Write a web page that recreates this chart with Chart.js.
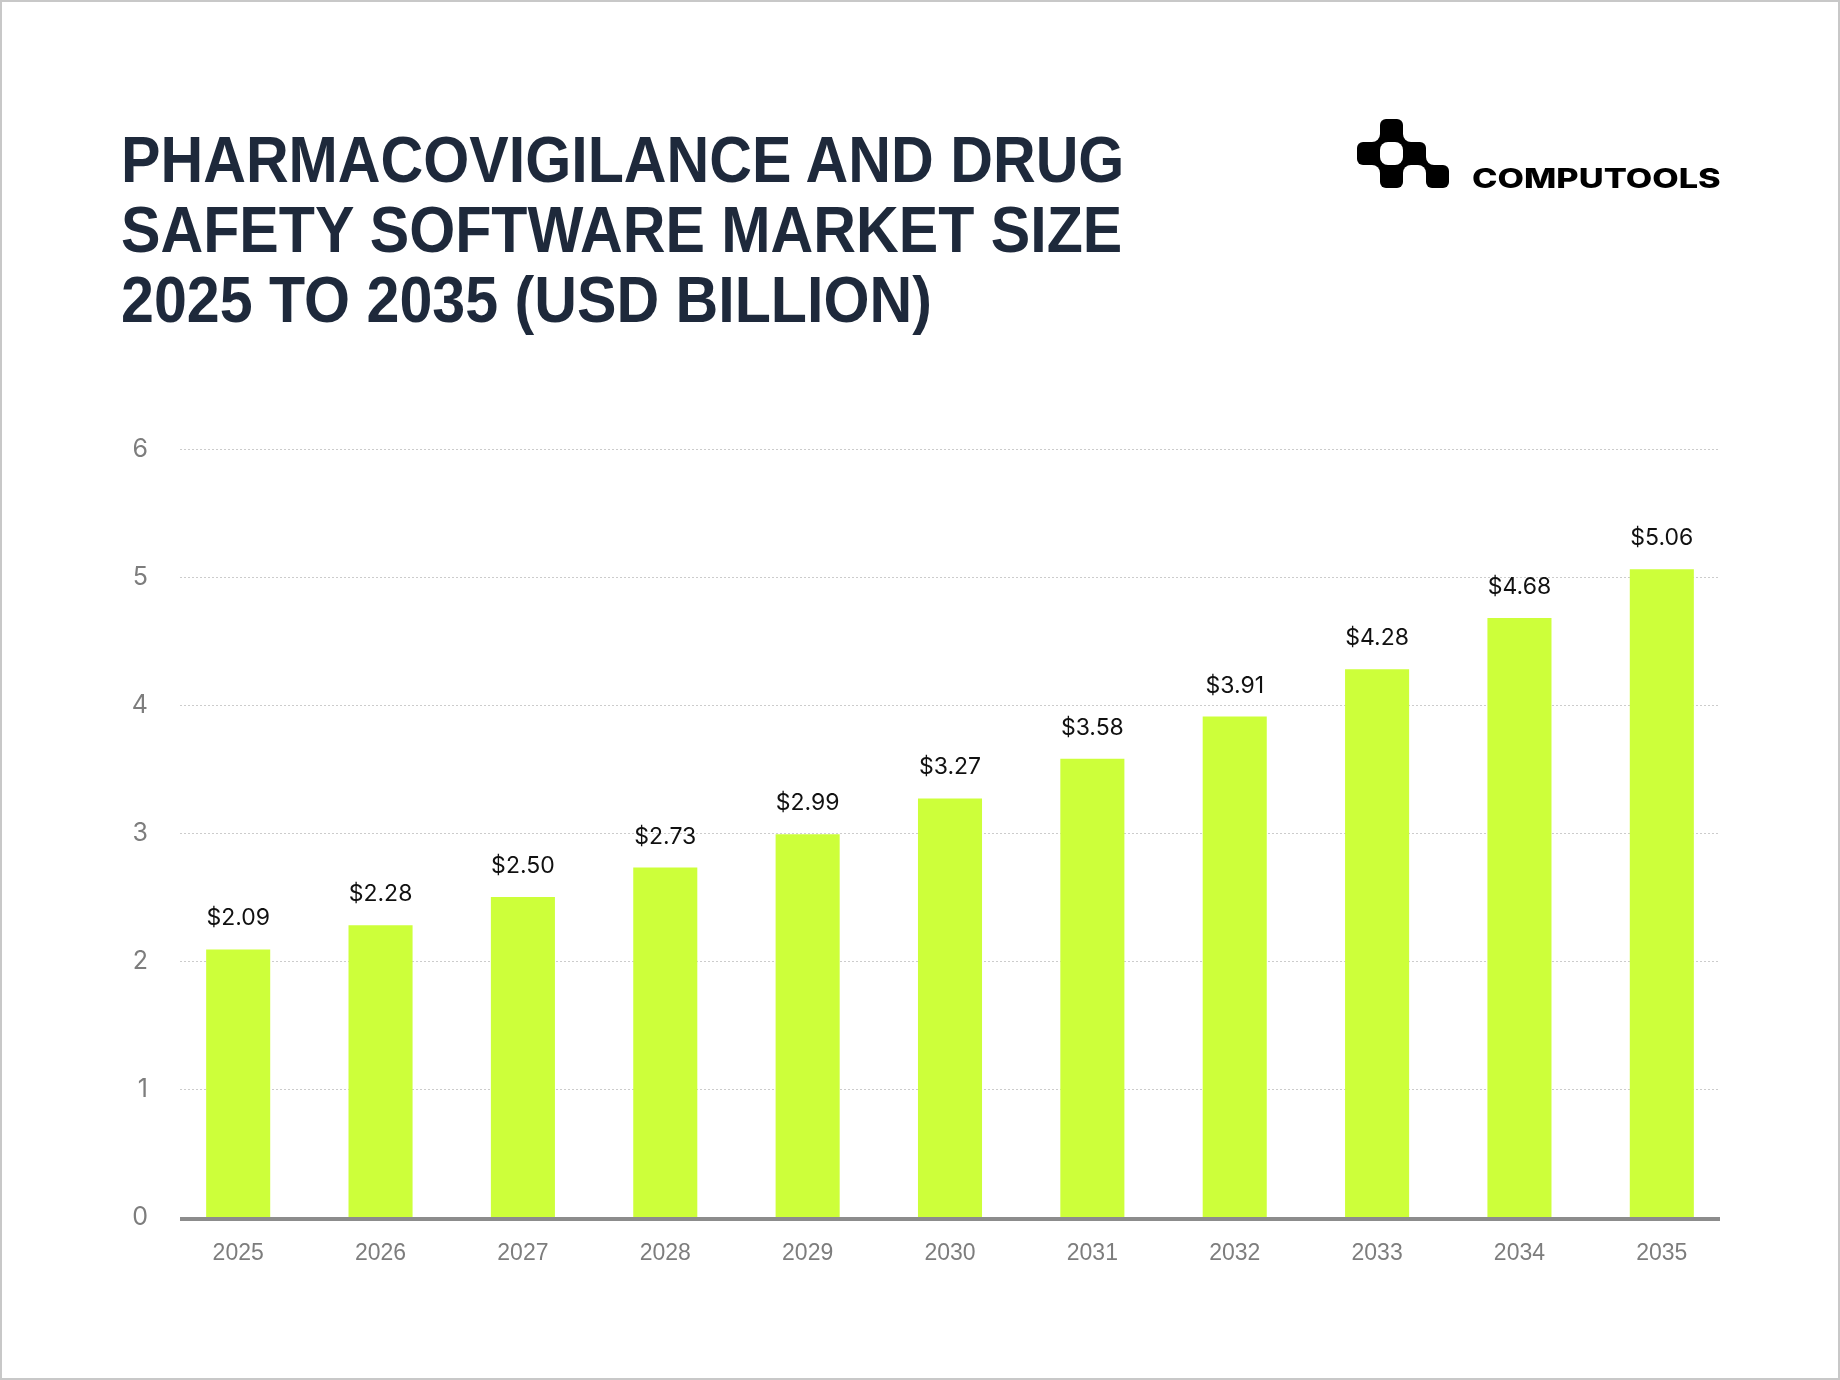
<!DOCTYPE html>
<html>
<head>
<meta charset="utf-8">
<title>Pharmacovigilance and Drug Safety Software Market Size 2025 to 2035</title>
<script src="https://cdn.jsdelivr.net/npm/chart.js@4.4.1/dist/chart.umd.min.js"></script>
<style>
  html, body { margin: 0; padding: 0; background: #fff; }
  #page { position: relative; width: 1840px; height: 1380px; overflow: hidden; background: #fff; }
  #page canvas { position: absolute; left: 0; top: 0; }
  .frame { position: absolute; left: 0; top: 0; right: 0; bottom: 0; border: 2px solid #c8c8c8; pointer-events: none; }
  h1 {
    position: absolute; left: 121px; top: 125px; margin: 0;
    font: bold 65px/70px "Liberation Sans", Arial, sans-serif;
    color: #1e293b; white-space: nowrap;
    transform: scaleX(0.91); transform-origin: left top;
  }
  .logo { position: absolute; left: 1357px; top: 119px; }
  .brand {
    position: absolute; left: 1472px; top: 165px; margin: 0;
    font: 800 27px/27px Inter, sans-serif; color: #000; white-space: nowrap;
    transform: scaleX(1.27); transform-origin: left top;
  }
</style>
</head>
<body>
<div id="page">
  <canvas id="marketChart" width="1840" height="1380"></canvas>
  <h1>PHARMACOVIGILANCE AND DRUG<br>SAFETY SOFTWARE MARKET SIZE<br>2025 TO 2035 (USD BILLION)</h1>
  <!-- logo : damier de carrés reliés en diagonale -->
  <svg class="logo" width="92" height="69" viewBox="0 0 92 69">
    <g fill="#000">
      <rect x="23" y="0" width="23" height="23" rx="6"/>
      <rect x="0" y="23" width="23" height="23" rx="6"/>
      <rect x="46" y="23" width="23" height="23" rx="6"/>
      <rect x="23" y="46" width="23" height="23" rx="6"/>
      <rect x="69" y="46" width="23" height="23" rx="6"/>
      <rect x="15" y="15" width="16" height="16"/>
      <rect x="38" y="15" width="16" height="16"/>
      <rect x="15" y="38" width="16" height="16"/>
      <rect x="38" y="38" width="16" height="16"/>
      <rect x="61" y="38" width="16" height="16"/>
    </g>
    <g fill="#fff">
      <circle cx="15" cy="15" r="8"/><circle cx="31" cy="31" r="8"/>
      <circle cx="54" cy="15" r="8"/><circle cx="38" cy="31" r="8"/>
      <circle cx="31" cy="38" r="8"/><circle cx="15" cy="54" r="8"/>
      <circle cx="38" cy="38" r="8"/><circle cx="54" cy="54" r="8"/>
      <circle cx="77" cy="38" r="8"/><circle cx="61" cy="54" r="8"/>
    </g>
  </svg>
  <div class="brand">COMPUTOOLS</div>
  <div class="frame"></div>
</div>
<script>
// données
const years = ['2025', '2026', '2027', '2028', '2029', '2030', '2031', '2032', '2033', '2034', '2035'];
const marketSize = [2.09, 2.28, 2.50, 2.73, 2.99, 3.27, 3.58, 3.91, 4.28, 4.68, 5.06];
const yTicks = [0, 1, 2, 3, 4, 5, 6];

// grille pointillée, ligne d'axe et étiquettes de valeur
const decorations = {
  id: 'decorations',
  beforeDatasetsDraw(chart) {
    const { ctx, chartArea, scales: { y } } = chart;
    const x0 = chartArea.left + 13, x1 = chartArea.right - 13;
    ctx.save();
    ctx.strokeStyle = '#cccccc';
    ctx.lineWidth = 1;
    ctx.setLineDash([2, 2]);
    y.ticks.forEach(t => {
      if (t.value === 0) return;
      const py = Math.round(y.getPixelForValue(t.value)) + 0.5;
      ctx.beginPath();
      ctx.moveTo(x0, py);
      ctx.lineTo(x1, py);
      ctx.stroke();
    });
    ctx.restore();
  },
  afterDatasetsDraw(chart) {
    const { ctx, chartArea, scales: { y } } = chart;
    const x0 = chartArea.left + 13, x1 = chartArea.right - 13;
    const zero = y.getPixelForValue(0);
    ctx.save();
    ctx.strokeStyle = '#8c8c8c';
    ctx.lineWidth = 4;
    ctx.beginPath();
    ctx.moveTo(x0, zero + 2);
    ctx.lineTo(x1, zero + 2);
    ctx.stroke();

    ctx.font = '23px Inter, sans-serif';
    ctx.fillStyle = '#111111';
    ctx.textAlign = 'center';
    ctx.textBaseline = 'alphabetic';
    chart.getDatasetMeta(0).data.forEach((bar, i) => {
      ctx.fillText('$' + marketSize[i].toFixed(2), bar.x, bar.y - 24);
    });
    ctx.restore();
  }
};

new Chart(document.getElementById('marketChart'), {
  type: 'bar',
  data: {
    labels: years,
    datasets: [{
      data: marketSize,
      backgroundColor: '#cdff3a',
      borderWidth: 0,
      barPercentage: 0.45,
      categoryPercentage: 1
    }]
  },
  options: {
    responsive: false,
    animation: false,
    devicePixelRatio: 1,
    layout: { padding: { left: 0, top: 449, right: 107, bottom: 103 } },
    plugins: {
      legend: { display: false },
      tooltip: { enabled: false }
    },
    scales: {
      x: {
        grid: { display: false, drawTicks: false },
        border: { display: false },
        ticks: { color: '#7d7d7d', font: { family: 'Liberation Sans', size: 23 }, padding: 23, maxRotation: 0 },
        afterFit: s => { s.height = 60; }
      },
      y: {
        min: 0,
        max: 6,
        afterBuildTicks: s => { s.ticks = yTicks.map(v => ({ value: v })); },
        grid: { display: false, drawTicks: false },
        border: { display: false },
        ticks: { color: '#7d7d7d', font: { family: 'Inter', size: 25 }, padding: 19 },
        afterFit: s => { s.width = 167; }
      }
    }
  },
  plugins: [decorations]
});
</script>
</body>
</html>
